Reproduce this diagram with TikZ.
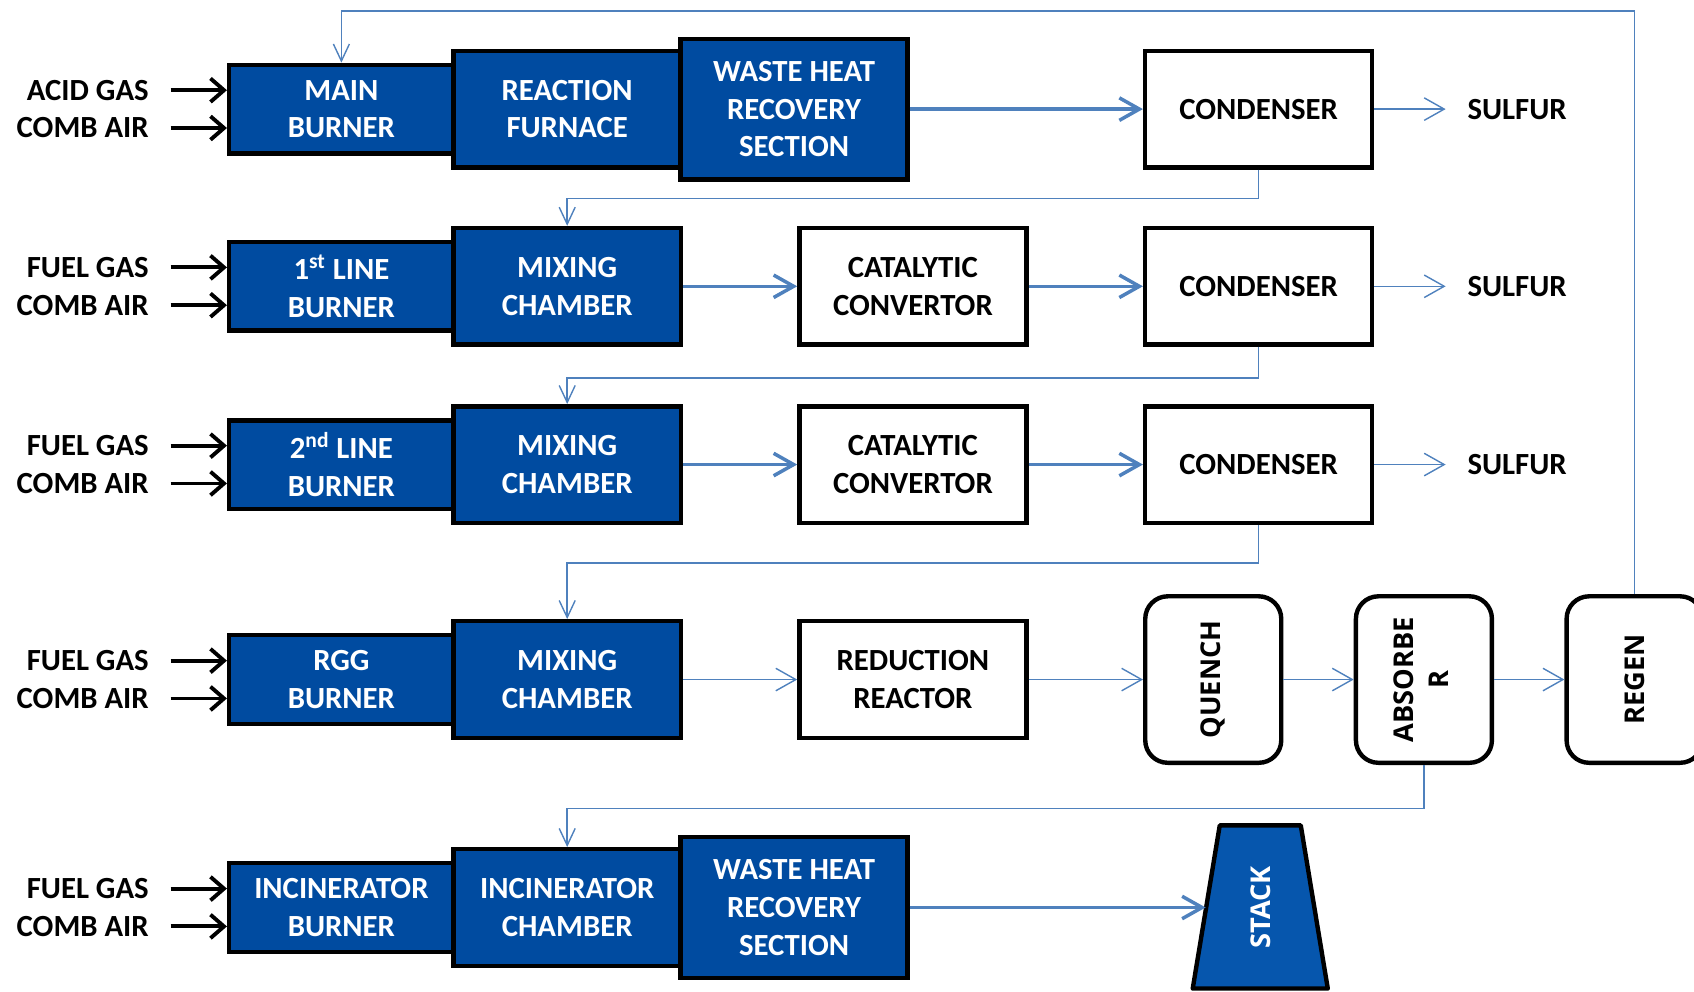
\documentclass[tikz,border=0pt]{standalone}
\usepackage{fontspec}
\setmainfont{Carlito}
\newfontfamily\towerfont{Open Sans}
\usetikzlibrary{arrows.meta,calc}
\definecolor{boxblue}{RGB}{0,75,160}
\definecolor{stackblue}{RGB}{6,86,173}
\definecolor{flowblue}{RGB}{79,129,189}

\begin{document}
\begin{tikzpicture}[x=0.0216cm,y=-0.0216cm,
  font=\fontsize{17.5}{21.5}\selectfont\bfseries,
  hot/.style={draw=black,line width=2.5pt,fill=boxblue,text=white,align=center,inner sep=0pt},
  burner/.style={hot,minimum width=4.49cm,minimum height=1.77cm},
  chamber/.style={hot,minimum width=4.54cm,minimum height=2.33cm},
  whrs/.style={hot,minimum width=4.54cm,minimum height=2.81cm},
  cold/.style={draw=black,line width=2.5pt,fill=white,align=center,inner sep=0pt,
    minimum width=4.54cm,minimum height=2.33cm},
  tower/.style={draw=black,line width=2.5pt,fill=white,rounded corners=0.45cm,inner sep=0pt,
    minimum width=2.72cm,minimum height=3.33cm,font=\towerfont\fontsize{15.5}{20}\selectfont\bfseries},
  feed/.style={anchor=east,inner sep=0pt},
  inarr/.style={line width=2.2pt,shorten <=0.43cm,-{Straight Barb[length=0.27cm,width=0.47cm]}},
  flow/.style={draw=flowblue,line width=0.8pt,-{Straight Barb[length=0.4cm,width=0.45cm]}},
  bigflow/.style={flow,line width=2pt},
  back/.style={draw=flowblue,line width=0.8pt,-{Straight Barb[length=0.34cm,width=0.32cm]}}]

\useasboundingbox (0,0) rectangle (1568,918);

% first line
\node[burner] (b1) at (316,101) {MAIN\\BURNER};
\node[chamber] (rf) at (525,101) {REACTION\\FURNACE};
\node[whrs] (wh1) at (735,101) {WASTE HEAT\\RECOVERY\\SECTION};
\node[cold] (c1) at (1165,101) {CONDENSER};

% second and third line
\node[burner] (b2) at (316,265) {1\textsuperscript{st} LINE\\BURNER};
\node[chamber] (mx1) at (525,265) {MIXING\\CHAMBER};
\node[cold] (cc1) at (845,265) {CATALYTIC\\CONVERTOR};
\node[cold] (c2) at (1165,265) {CONDENSER};

\node[burner] (b3) at (316,430) {2\textsuperscript{nd} LINE\\BURNER};
\node[chamber] (mx2) at (525,430) {MIXING\\CHAMBER};
\node[cold] (cc2) at (845,430) {CATALYTIC\\CONVERTOR};
\node[cold] (c3) at (1165,430) {CONDENSER};

% tail gas
\node[burner] (b4) at (316,629) {RGG\\BURNER};
\node[chamber] (mx3) at (525,629) {MIXING\\CHAMBER};
\node[cold] (rr) at (845,629) {REDUCTION\\REACTOR};
\node[tower] (quench) at (1123,629) {\rotatebox{90}{QUENCH}};
\node[tower] (absorber) at (1318,629) {\rotatebox{90}{\begin{tabular}{@{}c@{}}ABSORBE\\R\end{tabular}}};
\node[tower] (regen) at (1513,629) {\rotatebox{90}{REGEN}};

% incinerator
\node[burner] (b5) at (316,840) {INCINERATOR\\BURNER};
\node[chamber] (ic) at (525,840) {INCINERATOR\\CHAMBER};
\node[whrs] (wh2) at (735,840) {WASTE HEAT\\RECOVERY\\SECTION};
\draw[line width=2.5pt,fill=stackblue,line join=round] (1129,764) -- (1204,764) -- (1229,915) -- (1104,915) -- cycle;
\node[text=white,font=\towerfont\fontsize{15.5}{20}\selectfont\bfseries] (stk) at (1167,840) {\rotatebox{90}{STACK}};
\coordinate (stkin) at (1116,840);

\foreach \n/\y/\gas in {1/101/ACID GAS,2/265/FUEL GAS,3/430/FUEL GAS,4/629/FUEL GAS,5/840/FUEL GAS}{
  \node[feed] (gas\n) at (138,\y-17.5) {\gas};
  \node[feed] (air\n) at (138,\y+17.5) {COMB AIR};
  \draw[inarr] (gas\n) -- (gas\n -| b\n.west);
  \draw[inarr] (air\n) -- (air\n -| b\n.west);
}

\foreach \c/\y in {c1/101,c2/265,c3/430}{
  \node[feed,anchor=west] (s\c) at (1358,\y) {SULFUR};
  \draw[flow,shorten >=0.43cm] (\c) -- (s\c);
}

\draw[bigflow] (wh1.east) -- (c1.west);
\draw[bigflow] (mx1.east) -- (cc1.west);
\draw[bigflow] (cc1.east) -- (c2.west);
\draw[bigflow] (mx2.east) -- (cc2.west);
\draw[bigflow] (cc2.east) -- (c3.west);
\draw[flow] (mx3.east) -- (rr.west);
\draw[flow] (rr.east) -- (quench.west);
\draw[flow] (quench.east) -- (absorber.west);
\draw[flow] (absorber.east) -- (regen.west);
\draw[bigflow] (wh2.east) -- (stkin);

\coordinate (top) at (0,10);
\draw[back] (regen.north) |- (b1.north |- top) -- (b1.north);
\draw[back] (c1.south) -- ++(0,27) -| (mx1.north);
\draw[back] (c2.south) -- ++(0,29) -| (mx2.north);
\draw[back] (c3.south) -- ++(0,35) -| (mx3.north);
\draw[back] (absorber.south) -- ++(0,40) -| (ic.north);

\end{tikzpicture}
\end{document}
